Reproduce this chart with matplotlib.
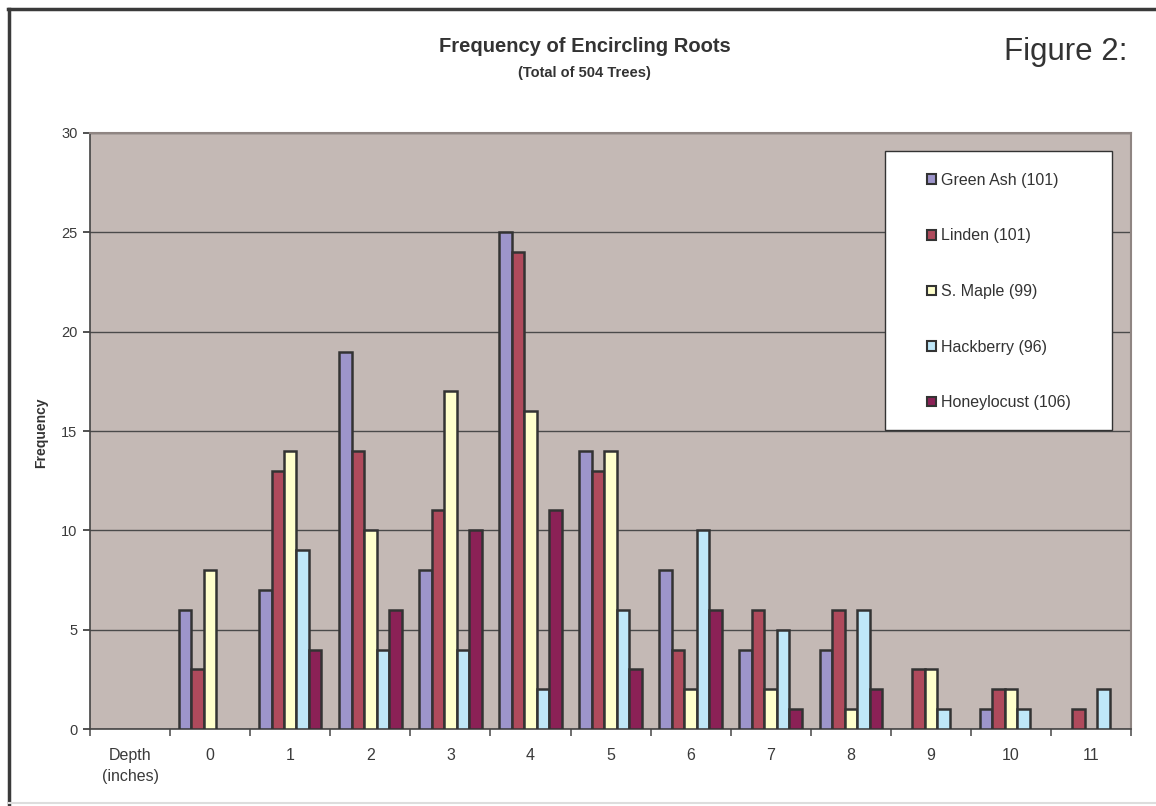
import numpy as np
import matplotlib.pyplot as plt
from matplotlib.lines import Line2D
from matplotlib.patches import Rectangle

plt.rcParams['font.family'] = ['Liberation Sans', 'DejaVu Sans']

# depth classes (first slot carries the axis caption)
categories = ['Depth\n(inches)', '0', '1', '2', '3', '4', '5', '6', '7', '8', '9', '10', '11']

# counts per depth 0..11
green_ash   = [6, 7, 19, 8, 25, 14, 8, 4, 4, 0, 1, 0]
linden      = [3, 13, 14, 11, 24, 13, 4, 6, 6, 3, 2, 1]
s_maple     = [8, 14, 10, 17, 16, 14, 2, 2, 1, 3, 2, 0]
hackberry   = [0, 9, 4, 4, 2, 6, 10, 5, 6, 1, 1, 2]
honeylocust = [0, 4, 6, 10, 11, 3, 6, 1, 2, 0, 0, 0]

series_names = ['Green Ash (101)', 'Linden (101)', 'S. Maple (99)',
                'Hackberry (96)', 'Honeylocust (106)']
series = [green_ash, linden, s_maple, hackberry, honeylocust]
colors = ['#9D95CB', '#AF4A5C', '#FFFFCC', '#BFE7F8', '#8B2156']

fig = plt.figure(figsize=(11.56, 8.06), dpi=100)
ax = fig.add_axes([0.0779, 0.0955, 0.9005, 0.7395])
ax.set_facecolor('#C4B9B5')

x = np.arange(1, len(categories))
w = 0.156
for i, (vals, c) in enumerate(zip(series, colors)):
    bars = ax.bar(x + (i - 2) * w, vals, width=w, color=c,
                  edgecolor='#333333', linewidth=1.8, zorder=3)
    for b, v in zip(bars, vals):
        if v == 0:
            b.set_visible(False)

ax.set_xlim(-0.5, len(categories) - 0.5)
ax.set_ylim(0, 30)
ax.set_yticks(np.arange(0, 31, 5))
ax.yaxis.grid(True, color='#4a4a4a', linewidth=1.0, zorder=1)
ax.set_axisbelow(True)

ax.set_xticks(np.arange(len(categories)))
ax.set_xticklabels(categories)
ax.set_xticks(np.arange(-0.5, len(categories)), minor=True)
ax.tick_params(axis='x', which='major', length=0, pad=14, labelsize=11.5,
               labelcolor='#3a3a3a')
ax.tick_params(axis='x', which='minor', length=5, width=1.2, color='#555555')
ax.tick_params(axis='y', length=5, width=1.2, color='#333333', pad=4,
               labelsize=10.5, labelcolor='#3a3a3a')
for lbl in ax.get_xticklabels():
    lbl.set_linespacing(1.5)

for side in ['top', 'right']:
    ax.spines[side].set_color('#8f8582')
    ax.spines[side].set_linewidth(1.5)
ax.spines['left'].set_color('#444444')
ax.spines['bottom'].set_color('#444444')
ax.spines['left'].set_linewidth(1.2)
ax.spines['bottom'].set_linewidth(1.2)

# legend box drawn as a white panel, entries placed inside it
ax.add_patch(Rectangle((0.7637, 0.5017), 0.2181, 0.4681, transform=ax.transAxes,
                       facecolor='white', edgecolor='#333333', linewidth=1.0,
                       zorder=4))
handles = [Rectangle((0, 0), 1, 1, facecolor=c, edgecolor='#333333', linewidth=1.5)
           for c in colors]
leg = ax.legend(handles, series_names, loc='upper left',
                bbox_to_anchor=(0.8041, 0.933), fontsize=11.5,
                frameon=False,
                handlelength=0.55, handleheight=0.55, handletextpad=0.3,
                labelspacing=2.54, borderpad=0, borderaxespad=0)
for t in leg.get_texts():
    t.set_color('#333333')
leg.set_zorder(5)

# titles
fig.text(0.506, 0.942, 'Frequency of Encircling Roots', ha='center', va='center',
         fontsize=14.5, fontweight='bold', color='#333333')
fig.text(0.506, 0.910, '(Total of 504 Trees)', ha='center', va='center',
         fontsize=10.5, fontweight='bold', color='#333333')
fig.text(0.975, 0.935, 'Figure 2:', ha='right', va='center',
         fontsize=22.5, color='#333333')
fig.text(0.036, 0.463, 'Frequency', ha='center', va='center', rotation=90,
         fontsize=10, fontweight='bold', color='#333333')

# page frame
fig.add_artist(Line2D([0.007, 1.0], [0.989, 0.989], color='#3a3a3a', linewidth=2.5))
fig.add_artist(Line2D([0.008, 0.008], [0.0, 0.989], color='#3a3a3a', linewidth=2.5))
fig.add_artist(Line2D([0.008, 1.0], [0.004, 0.004], color='#dddddd', linewidth=1.5))

fig.savefig('out.png', dpi=100, facecolor='white')
